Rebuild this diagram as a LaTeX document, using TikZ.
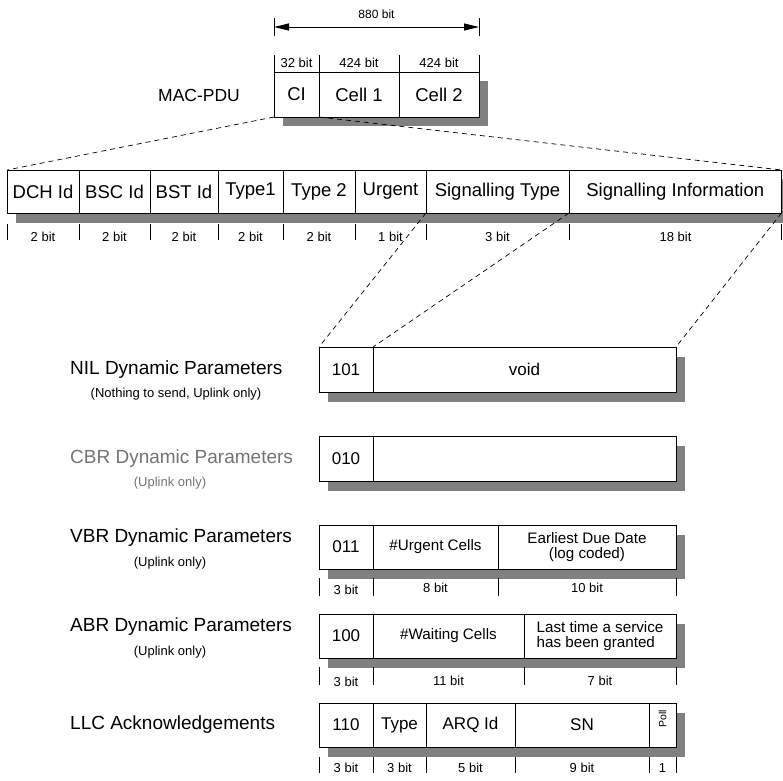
\documentclass[tikz,border=0pt]{standalone}
\usepackage{fontspec}
\setmainfont{Liberation Sans}
\usetikzlibrary{arrows.meta}
\newcommand\myfs[1]{\fontsize{#1}{#1}\selectfont}
\definecolor{shadowgray}{gray}{0.5}
\definecolor{dimtext}{gray}{0.45}
\begin{document}
\begin{tikzpicture}[x=1pt,y=-1pt,
  fld/.style={draw, fill=white, line width=0.9pt, inner sep=0pt, outer sep=0pt, anchor=north west, align=center},
  big/.style={font=\myfs{18.5}},
  val/.style={font=\myfs{17}},
  mid/.style={font=\fontsize{15.2}{15.5}\selectfont},
  shd/.style={fill=shadowgray},
  bitl/.style={font=\myfs{13}, inner sep=0pt},
  tk/.style={line width=0.9pt},
  conn/.style={dash pattern=on 5pt off 4pt, line width=0.7pt},
  ttl/.style={anchor=west, font=\myfs{19}, inner sep=0pt},
  subttl/.style={font=\myfs{13}, inner sep=0pt},
  hd/.style={line width=0.9pt, {Triangle[length=15pt,width=7pt]}-{Triangle[length=15pt,width=7pt]}}
]
\useasboundingbox (0,0) rectangle (783,780);

% ---------- total length arrow ----------
\coordinate (aL) at (274,27);
\coordinate (aR) at (479,27);
\draw[tk] (274,18) -- (274,36);
\draw[tk] (479,18) -- (479,36);
\draw[hd] (aL) -- (aR);
\node[bitl, font=\myfs{12}] (len) at (376.5,14) {880 bit};

% ---------- MAC-PDU ----------
\node[ttl, font=\myfs{17.5}] (mac) at (158,95) {MAC-PDU};
\fill[shd] (283,81) rectangle (488,126);
\node[fld, big, minimum width=45pt, minimum height=45pt] (ci) at (274,72) {CI};
\node[fld, big, minimum width=80pt, minimum height=45pt] (c1) at (319,72) {Cell 1};
\node[fld, big, minimum width=80pt, minimum height=45pt] (c2) at (399,72) {Cell 2};
\foreach \n in {ci.north west, ci.north east, c1.north east, c2.north east}
  \draw[tk] (\n) -- ++(0,-17);
\node[bitl] (bci) at (296.5,63) {32 bit};
\node[bitl] (bc1) at (359,63) {424 bit};
\node[bitl] (bc2) at (439,63) {424 bit};

% ---------- CI fields ----------
\fill[shd] (16,179) rectangle (783,223);
\node[fld, big, minimum width=72pt, minimum height=43pt] (dch) at (7,170) {DCH Id};
\node[fld, big, minimum width=71pt, minimum height=43pt] (bsc) at (79,170) {BSC Id};
\node[fld, big, minimum width=68pt, minimum height=43pt] (bst) at (150,170) {BST Id};
\node[fld, big, minimum width=65pt, minimum height=43pt] (ty1) at (218,170) {Type1};
\node[fld, big, minimum width=72pt, minimum height=43pt] (ty2) at (283,170) {Type 2};
\node[fld, big, minimum width=71pt, minimum height=43pt] (urg) at (355,170) {Urgent};
\node[fld, big, minimum width=143pt, minimum height=43pt] (styp) at (426,170) {Signalling Type};
\node[fld, big, minimum width=212.5pt, minimum height=43pt] (sinf) at (569,170) {Signalling Information};
\foreach \n in {dch.south west, dch.south east, bsc.south east, bst.south east, ty1.south east, ty2.south east, urg.south east, styp.south east, sinf.south east}
  \draw[tk] ([yshift=-11pt]\n) -- ++(0,16);
\node[bitl] at (43,237) {2 bit};
\node[bitl] at (114.5,237) {2 bit};
\node[bitl] at (184,237) {2 bit};
\node[bitl] at (250.5,237) {2 bit};
\node[bitl] at (319,237) {2 bit};
\node[bitl] at (390.5,237) {1 bit};
\node[bitl] at (497.5,237) {3 bit};
\node[bitl] at (675.5,237) {18 bit};

\draw[conn] (ci.south west) -- (dch.north west);
\draw[conn] (ci.south east) -- (sinf.north east);

% ---------- NIL ----------
\node[ttl] (tnil) at (70,370) {NIL Dynamic Parameters};
\node[subttl] (snil) at (176,394) {(Nothing to send, Uplink only)};
\fill[shd] (328,357) rectangle (685,402);
\node[fld, val, minimum width=54pt, minimum height=45pt] (n1) at (319,347) {101};
\node[fld, val, minimum width=303pt, minimum height=45pt] (n2) at (373,347) {void};

\draw[conn] (styp.south west) -- (n1.north west);
\draw[conn] (styp.south east) -- (n2.north west);
\draw[conn] (sinf.south east) -- (n2.north east);

% ---------- CBR ----------
\node[ttl, text=dimtext] (tcbr) at (70,459) {CBR Dynamic Parameters};
\node[subttl, text=dimtext] (scbr) at (170,483) {(Uplink only)};
\fill[shd] (328,446) rectangle (685,491);
\node[fld, val, minimum width=54pt, minimum height=45pt] (cb1) at (319,436) {010};
\node[fld, val, minimum width=303pt, minimum height=45pt] (cb2) at (373,436) {};

% ---------- VBR ----------
\node[ttl] (tvbr) at (70,538) {VBR Dynamic Parameters};
\node[subttl] (svbr) at (170,563) {(Uplink only)};
\fill[shd] (328,535) rectangle (685,579);
\node[fld, val, minimum width=54pt, minimum height=44pt] (v1) at (319,525) {011};
\node[fld, mid, minimum width=125pt, minimum height=44pt] (v2) at (373,525) {\#Urgent Cells};
\node[fld, mid, minimum width=178pt, minimum height=44pt] (v3) at (498,525) {Earliest Due Date\\(log coded)};
\foreach \n in {v1.south west, v1.south east, v2.south east, v3.south east}
  \draw[tk] ([yshift=-9pt]\n) -- ++(0,18);
\node[bitl] at (346,590) {3 bit};
\node[bitl] at (435.5,588) {8 bit};
\node[bitl] at (587,588) {10 bit};

% ---------- ABR ----------
\node[ttl] (tabr) at (70,627) {ABR Dynamic Parameters};
\node[subttl] (sabr) at (170,652) {(Uplink only)};
\fill[shd] (328,624) rectangle (685,668);
\node[fld, val, minimum width=54pt, minimum height=44pt] (a1) at (319,614) {100};
\node[fld, mid, minimum width=151pt, minimum height=44pt] (a2) at (373,614) {\#Waiting Cells};
\node[fld, mid, minimum width=152pt, minimum height=44pt, align=left] (a3) at (524,614) {Last time a service\\has been granted};
\foreach \n in {a1.south west, a1.south east, a2.south east, a3.south east}
  \draw[tk] ([yshift=-9pt]\n) -- ++(0,18);
\node[bitl] at (346,682) {3 bit};
\node[bitl] at (448.5,681) {11 bit};
\node[bitl] at (600,681) {7 bit};

% ---------- LLC ----------
\node[ttl] (tllc) at (70,725) {LLC Acknowledgements};
\fill[shd] (328,713) rectangle (685,757);
\node[fld, val, minimum width=54pt, minimum height=44pt] (l1) at (319,703) {110};
\node[fld, val, minimum width=53pt, minimum height=44pt] (l2) at (373,703) {Type};
\node[fld, val, minimum width=89pt, minimum height=44pt] (l3) at (426,703) {ARQ Id};
\node[fld, val, minimum width=134pt, minimum height=44pt] (l4) at (515,703) {SN};
\node[fld, minimum width=27pt, minimum height=44pt] (l5) at (649,703) {};
\node[font=\myfs{10.5}, rotate=90, inner sep=0pt] (poll) at ([yshift=6pt]l5.center) {Poll};
\foreach \n in {l1.south west, l1.south east, l2.south east, l3.south east, l4.south east, l5.south east}
  \draw[tk] ([yshift=-10pt]\n) -- ++(0,16);
\node[bitl] at (346,768) {3 bit};
\node[bitl] at (399.5,768) {3 bit};
\node[bitl] at (470.5,768) {5 bit};
\node[bitl] at (582,768) {9 bit};
\node[bitl] at (662.5,768) {1};
\end{tikzpicture}
\end{document}
